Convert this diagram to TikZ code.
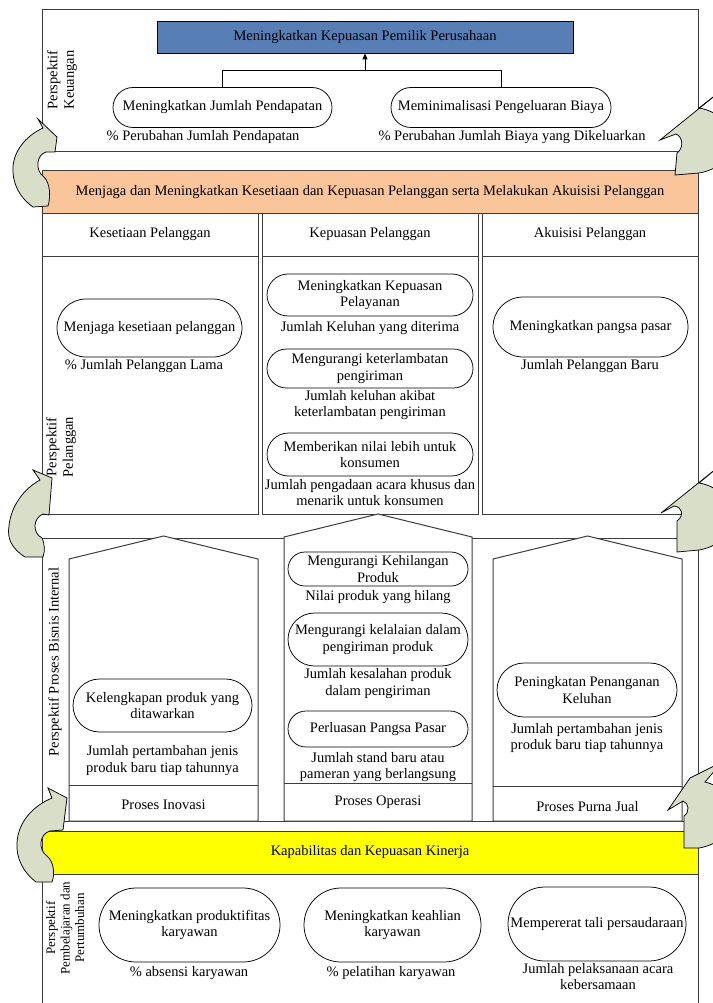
\documentclass[tikz,border=0pt]{standalone}
\usepackage{fontspec}
\setmainfont{Liberation Serif}
\usetikzlibrary{arrows.meta}
\definecolor{lineg}{RGB}{60,60,60}
\definecolor{blueb}{RGB}{88,126,182}
\definecolor{peach}{RGB}{250,197,155}
\definecolor{arrowf}{RGB}{216,222,200}
\definecolor{yel}{RGB}{255,255,0}
\tikzset{
 frame/.style={draw=lineg, line width=1pt},
 oval/.style={draw=black, line width=0.75pt, fill=white, align=center, inner sep=0pt},
 lbl/.style={inner sep=0pt, text height=10pt, text depth=3.5pt},
 lbltwo/.style={inner sep=0pt, align=center},
 rot/.style={rotate=90, inner sep=0pt, align=center},
 curvarr/.style={draw=black, line width=0.75pt, fill=arrowf, line join=miter},
 conn/.style={draw=black, line width=0.75pt},
 house/.style={draw=lineg, line width=1pt, fill=white},
}
\begin{document}
\begin{tikzpicture}[x=1pt,y=-1pt, font=\fontsize{14.5}{16.5}\selectfont]
\useasboundingbox (0,0) rectangle (712,1003);
\fill[white] (0,0) rectangle (712,1003);

% ---------- Perspektif Keuangan ----------
\draw[frame] (42,10) rectangle (698,152);
\node[draw=black, line width=0.75pt, fill=blueb, minimum width=416pt, minimum height=32pt, inner sep=0pt] (goal) at (365,37) {Meningkatkan Kepuasan Pemilik Perusahaan};
\node[oval, minimum width=219pt, minimum height=40pt, rounded corners=20pt] (k1) at (222.5,107.5) {Meningkatkan Jumlah Pendapatan};
\node[oval, minimum width=220pt, minimum height=40pt, rounded corners=20pt] (k2) at (501,107.5) {Meminimalisasi Pengeluaran Biaya};
\coordinate (kj) at (365,70.5);
\draw[conn] (k1.north) |- (kj) -| (k2.north);
\draw[conn, -{Triangle[length=6pt,width=5pt]}] (kj) -- (goal.south);
\node[lbl] (k1m) at (203,137) {\% Perubahan Jumlah Pendapatan};
\node[lbl] (k2m) at (512,137) {\% Perubahan Jumlah Biaya yang Dikeluarkan};
\node[rot] (pk) at (62,80) {Perspektif\\Keuangan};

% ---------- Perspektif Pelanggan ----------
\node[frame, fill=peach, minimum width=656pt, minimum height=42pt, inner sep=0pt] (pgoal) at (370,192) {Menjaga dan Meningkatkan Kesetiaan dan Kepuasan Pelanggan serta Melakukan Akuisisi Pelanggan};
\node[frame, minimum width=216pt, minimum height=43pt, inner sep=0pt] (c1h) at (150,234.5) {Kesetiaan Pelanggan};
\node[frame, minimum width=216pt, minimum height=43pt, inner sep=0pt] (c2h) at (370,234.5) {Kepuasan Pelanggan};
\node[frame, minimum width=216pt, minimum height=43pt, inner sep=0pt] (c3h) at (590,234.5) {Akuisisi Pelanggan};
\draw[frame] (42,256) rectangle (258,514);
\draw[frame] (262,256) rectangle (478,514);
\draw[frame] (482,256) rectangle (698,514);

\node[oval, minimum width=185pt, minimum height=58pt, rounded corners=29pt] (c1o) at (149.5,328) {Menjaga kesetiaan pelanggan};
\node[lbl] (c1m) at (144,366) {\% Jumlah Pelanggan Lama};
\node[oval, minimum width=206pt, minimum height=42pt, rounded corners=21pt] (c2o1) at (370,295) {Meningkatkan Kepuasan\\Pelayanan};
\node[lbl] (c2m1) at (370,328) {Jumlah Keluhan yang diterima};
\node[oval, minimum width=206pt, minimum height=39pt, rounded corners=19.5pt] (c2o2) at (370,368.5) {Mengurangi keterlambatan\\pengiriman};
\node[lbltwo] (c2m2) at (370,405) {Jumlah keluhan akibat\\keterlambatan pengiriman};
\node[oval, minimum width=206pt, minimum height=43pt, rounded corners=21.5pt] (c2o3) at (370,454.5) {Memberikan nilai lebih untuk\\konsumen};
\node[lbltwo] (c2m3) at (370,492.5) {Jumlah pengadaan acara khusus dan\\menarik untuk konsumen};
\node[oval, minimum width=195pt, minimum height=60pt, rounded corners=30pt] (c3o) at (590.5,327) {Meningkatkan pangsa pasar};
\node[lbl] (c3m) at (590,366) {Jumlah Pelanggan Baru};
\node[rot] (pp) at (61,447) {Perspektif\\Pelanggan};

% ---------- Perspektif Proses Bisnis Internal ----------
\draw[frame] (42,538) rectangle (698,821);
\draw[house] (69,821) -- (69,559) -- (163.5,536) -- (258,559) -- (258,821) -- cycle;
\draw[frame] (69,785) -- (258,785);
\draw[house] (284,821) -- (284,537) -- (378,514) -- (472,537) -- (472,821) -- cycle;
\draw[frame] (284,783) -- (472,783);
\draw[house] (493,821) -- (493,559) -- (587.5,536) -- (682,559) -- (682,821) -- cycle;
\draw[frame] (493,786) -- (682,786);
\node[lbl] (pin) at (163.5,806) {Proses Inovasi};
\node[lbl] (pop) at (378,802) {Proses Operasi};
\node[lbl] (ppj) at (587.5,808) {Proses Purna Jual};

\node[oval, minimum width=179pt, minimum height=53pt, rounded corners=26.5pt] (i1o) at (162.5,705.5) {Kelengkapan produk yang\\ditawarkan};
\node[lbltwo] (i1m) at (162.5,760.5) {Jumlah pertambahan jenis\\produk baru tiap tahunnya};
\node[oval, minimum width=180pt, minimum height=34pt, rounded corners=17pt] (i2o1) at (378,569) {Mengurangi Kehilangan\\Produk};
\node[lbl] (i2m1) at (378,597) {Nilai produk yang hilang};
\node[oval, minimum width=180pt, minimum height=53pt, rounded corners=26.5pt] (i2o2) at (378,639.5) {Mengurangi kelalaian dalam\\pengiriman produk};
\node[lbltwo] (i2m2) at (378,683.5) {Jumlah kesalahan produk\\dalam pengiriman};
\node[oval, minimum width=180pt, minimum height=36pt, rounded corners=18pt] (i2o3) at (378,729) {Perluasan Pangsa Pasar};
\node[lbltwo] (i2m3) at (378,767) {Jumlah stand baru atau\\pameran yang berlangsung};
\node[oval, minimum width=180pt, minimum height=54pt, rounded corners=27pt] (i3o) at (587,690) {Peningkatan Penanganan\\Keluhan};
\node[lbltwo] (i3m) at (587,738) {Jumlah pertambahan jenis\\produk baru tiap tahunnya};
\node[rot] (pbi) at (55,662) {Perspektif Proses Bisnis Internal};

% ---------- Perspektif Pembelajaran dan Pertumbuhan ----------
\node[frame, fill=yel, minimum width=656pt, minimum height=43pt, inner sep=0pt] (kk) at (370,852.5) {Kapabilitas dan Kepuasan Kinerja};
\draw[frame] (42,874) rectangle (698,1012);
\node[oval, minimum width=181pt, minimum height=74pt, rounded corners=37pt] (l1o) at (189.5,925) {Meningkatkan produktifitas\\karyawan};
\node[lbl] (l1m) at (189,973) {\% absensi karyawan};
\node[oval, minimum width=177pt, minimum height=74pt, rounded corners=37pt] (l2o) at (392.5,925) {Meningkatkan keahlian\\karyawan};
\node[lbl] (l2m) at (391,973) {\% pelatihan karyawan};
\node[oval, minimum width=178pt, minimum height=74pt, rounded corners=37pt] (l3o) at (597,924) {Mempererat tali persaudaraan};
\node[lbltwo] (l3m) at (598,976.5) {Jumlah pelaksanaan acara\\kebersamaan};
\node[rot, font=\fontsize{13}{14.5}\selectfont] (plg) at (65,928) {Perspektif\\Pembelajaran dan\\Pertumbuhan};

% ---------- curved arrows ----------
\draw[curvarr] (33,207) .. controls (19,197) and (12,183) .. (13,166) .. controls (15,148) and (28,135) .. (43,128) -- (38,119) -- (57,137) -- (55,152) -- (46,152) .. controls (36,155) and (35,171) .. (44,177) .. controls (50,183) and (51,196) .. (48,206) -- cycle;
\draw[curvarr] (25,557) .. controls (11,548) and (7,538) .. (9,526) .. controls (11,505) and (25,488) .. (40,480) -- (33,470) -- (52,478) -- (49,515) -- (43,514) .. controls (33,518) and (32,533) .. (42,538) .. controls (45,545) and (45,551) .. (43,557) -- cycle;
\draw[curvarr] (36,882) .. controls (23,872) and (16,858) .. (17,843) .. controls (18,822) and (33,806) .. (52,798) -- (48,788) -- (67,798) -- (63,830) -- (50,831) .. controls (39,834) and (38,850) .. (47,856) .. controls (54,862) and (55,874) .. (52,882) -- cycle;

\draw[curvarr] (660,140) -- (722,90) -- (699,108) .. controls (740,115) and (745,165) .. (699,173) -- (675,175) -- (677,153) .. controls (684,148) and (683,137) .. (676,134) -- cycle;
\draw[curvarr] (661,513) -- (722,464) -- (699,483) .. controls (740,490) and (745,542) .. (699,550) -- (677,552) -- (677,521) .. controls (684,516) and (683,507) .. (674,506) -- cycle;
\draw[curvarr] (668,810) -- (690,778) -- (722,762) -- (705,782) .. controls (740,790) and (745,840) .. (699,848) -- (684,848) -- (684,816) .. controls (690,812) and (689,803) .. (683,801) -- cycle;
\end{tikzpicture}
\end{document}
